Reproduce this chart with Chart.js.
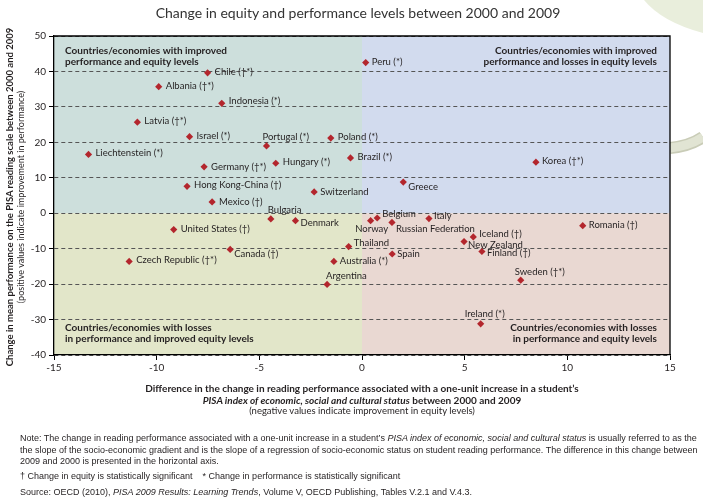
<!DOCTYPE html>
<html><head><meta charset="utf-8">
<script src="https://cdn.jsdelivr.net/npm/chart.js@4.4.1/dist/chart.umd.min.js"></script>
<style>
html,body{margin:0;padding:0;background:#fff;}
#wrap{position:relative;width:703px;height:503px;overflow:hidden;font-family:Lato,"Liberation Sans",sans-serif;color:#231f20;}
#deco{position:absolute;left:0;top:0;}
canvas{position:absolute;left:0;top:0;}
.t{position:absolute;white-space:nowrap;line-height:12px;}
.c{transform:translateX(-50%);}
.n{font-size:9px;font-family:'Liberation Sans Narrow','Liberation Sans',sans-serif;left:20px;}
</style></head><body>
<div id="wrap">
<svg id="deco" width="703" height="503">
  <path d="M644 0 Q662 22 703 33 L703 0 Z" fill="#e9eedc"/>
  <path d="M670 148 Q690 146 703 137" stroke="#c9ccb7" stroke-width="12" fill="none"/>
  <path d="M670 148 Q690 146 703 137" stroke="#e1e4d3" stroke-width="9" fill="none"/>
</svg>
<canvas id="c" width="703" height="503"></canvas>
<div class="t c" style="left:358px;top:7px;font-size:14px;color:#333;">Change in equity and performance levels between 2000 and 2009</div>
<div class="t" style="left:10px;top:197px;transform:translate(-50%,-50%) rotate(-90deg);font-size:9.5px;font-weight:bold;">Change in mean performance on the PISA reading scale between 2000 and 2009</div>
<div class="t" style="left:21px;top:197px;transform:translate(-50%,-50%) rotate(-90deg);font-size:9px;">(positive values indicate improvement in performance)</div>
<div class="t c" style="left:362px;top:382px;font-size:10px;font-weight:bold;">Difference in the change in reading performance associated with a one-unit increase in a student’s</div>
<div class="t c" style="left:362px;top:394px;font-size:10px;font-weight:bold;"><i>PISA index of economic, social and cultural status</i> between 2000 and 2009</div>
<div class="t c" style="left:362px;top:405px;font-size:9.5px;">(negative values indicate improvement in equity levels)</div>
<div class="t n" style="top:432px;">Note: The change in reading performance associated with a one-unit increase in a student’s <i>PISA index of economic, social and cultural status</i> is usually referred to as the</div>
<div class="t n" style="top:444px;">the slope of the socio-economic gradient and is the slope of a regression of socio-economic status on student reading performance. The difference in this change between</div>
<div class="t n" style="top:455px;">2009 and 2000 is presented in the horizontal axis.</div>
<div class="t n" style="top:470px;">† Change in equity is statistically significant &nbsp;&nbsp; * Change in performance is statistically significant</div>
<div class="t n" style="top:486px;">Source: OECD (2010), <i>PISA 2009 Results: Learning Trends</i>, Volume V, OECD Publishing, Tables V.2.1 and V.4.3.</div>
</div>
<script>
// ---- data ----
const countries = [
  "Chile (†*)", "Albania (†*)", "Indonesia (*)", "Latvia (†*)", "Israel (*)", "Portugal (*)",
  "Poland (*)", "Liechtenstein (*)", "Germany (†*)", "Hungary (*)", "Brazil (*)", "Hong Kong-China (†)",
  "Switzerland", "Mexico (†)", "Peru (*)", "Korea (†*)", "Greece", "Bulgaria",
  "Denmark", "United States (†)", "Canada (†)", "Czech Republic (†*)", "Thailand", "Australia (*)",
  "Argentina", "Norway", "Belgium", "Russian Federation", "Italy", "Romania (†)",
  "Iceland (†)", "New Zealand", "Finland (†)", "Spain", "Sweden (†*)", "Ireland (*)"
];
const equityChange = [
  -7.52, -9.90, -6.83, -10.94, -8.40, -4.65,
  -1.52, -13.32, -7.69, -4.20, -0.56, -8.52,
  -2.33, -7.30, 0.18, 8.47, 2.01, -4.44,
  -3.24, -9.17, -6.42, -11.34, -0.65, -1.37,
  -1.70, 0.42, 0.74, 1.46, 3.26, 10.75,
  5.42, 4.97, 5.84, 1.47, 7.73, 5.78
];
const performanceChange = [
  39.6, 35.7, 31.0, 25.7, 21.6, 19.0,
  21.2, 16.6, 13.1, 14.1, 15.6, 7.6,
  6.0, 3.2, 42.5, 14.4, 8.8, -1.6,
  -2.1, -4.6, -10.2, -13.6, -9.4, -13.6,
  -20.1, -2.1, -1.35, -2.6, -1.5, -3.5,
  -6.7, -8.0, -10.8, -11.5, -18.9, -31.2
];
const xTickValues = [-15, -10, -5, 0, 5, 10, 15];
const yTickValues = [-40, -30, -20, -10, 0, 10, 20, 30, 40, 50];
const quadrantLabels = [
  ["Countries/economies with improved", "performance and equity levels"],
  ["Countries/economies with improved", "performance and losses in equity levels"],
  ["Countries/economies with losses", "in performance and improved equity levels"],
  ["Countries/economies with losses", "in performance and equity levels"]
];

// ---- label placement (layout only): [dx, dy, align] ----
const labelLayout = [
  [7,-1,'left'],[7,-1,'left'],[7,-2,'left'],[7,-1,'left'],[7,-1,'left'],[-4,-9,'left'],
  [7,-1,'left'],[7,-1,'left'],[7,0,'left'],[7,-1,'left'],[7,-1,'left'],[7,-1,'left'],
  [6,0,'left'],[7,0,'left'],[6,-1,'left'],[6,-1,'left'],[5,5,'left'],[-3,-9,'left'],
  [5,2,'left'],[7,-1,'left'],[4,5,'left'],[7,-1,'left'],[5,-4,'left'],[6,0,'left'],
  [-1,-9,'left'],[1,8,'center'],[5,-4,'left'],[4,6,'left'],[5,-3,'left'],[6,-1,'left'],
  [6,-3,'left'],[4,3,'left'],[5,1,'left'],[5,0,'left'],[-6,-8,'left'],[-16,-10,'left']
];

const FONT = 'Lato, "Liberation Sans", sans-serif';

const bgPlugin = {
  id: 'quadBg',
  beforeDraw(chart) {
    const {ctx, chartArea: a, scales: {x, y}} = chart;
    const x0 = x.getPixelForValue(0), y0 = y.getPixelForValue(0);
    ctx.save();
    ctx.fillStyle = '#cddfdc'; ctx.fillRect(a.left, a.top, x0 - a.left, y0 - a.top);
    ctx.fillStyle = '#d2dbee'; ctx.fillRect(x0, a.top, a.right - x0, y0 - a.top);
    ctx.fillStyle = '#e2e6c9'; ctx.fillRect(a.left, y0, x0 - a.left, a.bottom - y0);
    ctx.fillStyle = '#e9d8d2'; ctx.fillRect(x0, y0, a.right - x0, a.bottom - y0);
    ctx.restore();
  },
  afterDatasetsDraw(chart) {
    const {ctx, chartArea: a, scales: {x, y}} = chart;
    ctx.save();
    ctx.fillStyle = '#231f20';
    ctx.font = 'bold 10px ' + FONT;
    ctx.textBaseline = 'middle';
    ctx.textAlign = 'left';
    quadrantLabels[0].forEach((s, k) => ctx.fillText(s, a.left + 11, a.top + 15 + k * 11));
    quadrantLabels[2].forEach((s, k) => ctx.fillText(s, a.left + 11, a.bottom - 27 + k * 11));
    ctx.textAlign = 'right';
    quadrantLabels[1].forEach((s, k) => ctx.fillText(s, a.right - 13, a.top + 15 + k * 11));
    quadrantLabels[3].forEach((s, k) => ctx.fillText(s, a.right - 13, a.bottom - 27 + k * 11));
    ctx.font = '9.5px ' + FONT;
    countries.forEach((name, i) => {
      const px = x.getPixelForValue(equityChange[i]);
      const py = y.getPixelForValue(performanceChange[i]);
      const [dx, dy, al] = labelLayout[i];
      ctx.textAlign = al;
      ctx.fillText(name, px + dx, py + dy);
    });
    ctx.restore();
  },
  afterDraw(chart) {
    const {ctx, chartArea: a} = chart;
    ctx.save();
    ctx.strokeStyle = '#000';
    ctx.lineWidth = 1.3;
    ctx.beginPath();
    ctx.moveTo(a.left, a.top); ctx.lineTo(a.right, a.top); ctx.lineTo(a.right, a.bottom);
    ctx.stroke();
    ctx.restore();
  }
};

new Chart(document.getElementById('c'), {
  type: 'scatter',
  data: {
    datasets: [{
      data: countries.map((c, i) => ({x: equityChange[i], y: performanceChange[i]})),
      pointStyle: 'rectRot',
      radius: 3.6,
      backgroundColor: '#b3262d',
      borderColor: '#b3262d',
      borderWidth: 0
    }]
  },
  options: {
    responsive: false,
    devicePixelRatio: 1,
    animation: false,
    layout: {padding: {top: 36, right: 33, left: 0, bottom: 0}},
    plugins: {legend: {display: false}, tooltip: {enabled: false}},
    scales: {
      x: {
        type: 'linear', min: -15, max: 15,
        afterBuildTicks: s => { s.ticks = xTickValues.map(v => ({value: v})); },
        ticks: {font: {size: 10, family: FONT}, color: '#231f20', padding: 2, maxRotation: 0},
        grid: {drawOnChartArea: false, drawTicks: true, tickLength: 5, tickColor: '#000', tickWidth: 1},
        border: {color: '#000', width: 1.3},
        afterFit: s => { s.height = 148; }
      },
      y: {
        type: 'linear', min: -40, max: 50,
        afterBuildTicks: s => { s.ticks = yTickValues.map(v => ({value: v})); },
        ticks: {font: {size: 10, family: FONT}, color: '#231f20', padding: 3},
        grid: {color: '#555', lineWidth: 1, tickLength: 5, tickColor: '#000', tickBorderDash: []},
        border: {color: '#000', width: 1.3, dash: [4, 3]},
        afterFit: s => { s.width = 54; }
      }
    }
  },
  plugins: [bgPlugin]
});
</script>
</body></html>
